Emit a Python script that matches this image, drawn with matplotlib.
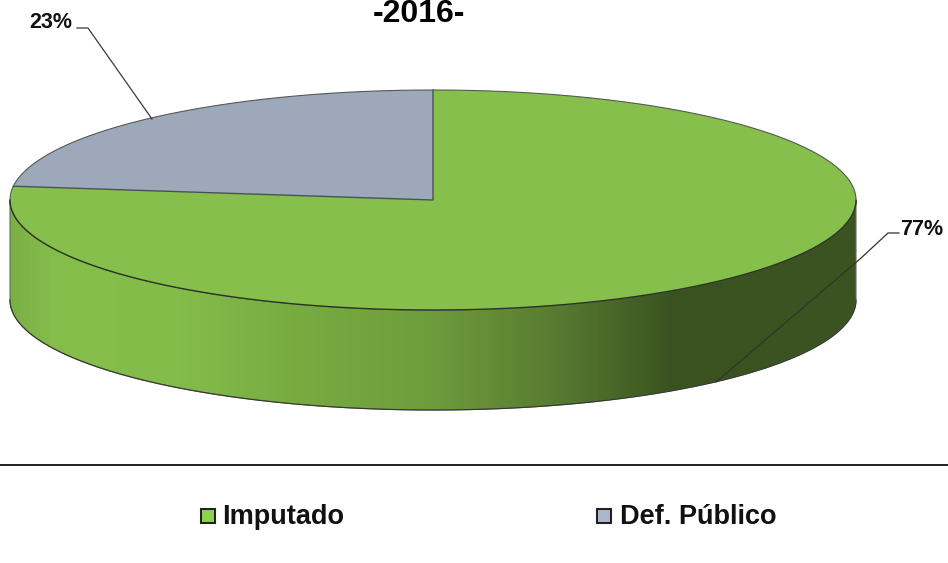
import numpy as np
import matplotlib
matplotlib.use('Agg')
import matplotlib.pyplot as plt
from matplotlib.colors import LinearSegmentedColormap
from matplotlib.patches import Polygon, Rectangle

title = '-2016-'
categories = ['Imputado', 'Def. Público']
shares = [77, 23]
share_labels = ['77%', '23%']

# pie geometry in pixels
cx, cy = 433, 200
rx, ry = 423, 110
depth = 100

green = '#87BF4D'
grey = '#9DA9BA'
edge = '#2a3324'

plt.rcParams['font.family'] = ['Liberation Sans', 'DejaVu Sans']

def arc(a0, a1, dy=0, n=300):
    t = np.radians(np.linspace(a0, a1, n))
    return np.column_stack([cx + rx*np.cos(t), cy + dy - ry*np.sin(t)])

fig = plt.figure(figsize=(9.48, 5.63), dpi=100)
ax = fig.add_axes([0, 0, 1, 1])
ax.axis('off')

# wedge angles, clockwise from 12 o'clock
split = 90 - 360*shares[0]/sum(shares)

# side wall, gradient clipped to the front half of the rim
front = arc(180, 360)
wall = np.vstack([front, arc(360, 180, depth)])
side_cmap = LinearSegmentedColormap.from_list('side', [
    (0.00, '#7BAF45'), (0.05, '#85BE4B'), (0.20, '#84BC4A'), (0.33, '#78AC41'),
    (0.50, '#6E9C3C'), (0.65, '#567A30'), (0.79, '#3A5120'), (1.00, '#3C5322')])
grad = ax.imshow(np.linspace(0, 1, 512).reshape(1, -1), cmap=side_cmap, aspect='auto',
                 extent=[cx-rx, cx+rx, cy+depth+ry, cy], zorder=1)
grad.set_clip_path(Polygon(wall, closed=True, transform=ax.transData))
ax.set_xlim(0, 948)
ax.set_ylim(563, 0)
ax.add_patch(Polygon(wall, closed=True, fill=False, ec='#666b60', lw=0.8, zorder=2))

# top of the pie
top_green = np.vstack([[cx, cy], arc(90, split)])
top_grey = np.vstack([[cx, cy], arc(split + 360, 90)])
ax.add_patch(Polygon(top_green, closed=True, fc=green, ec='none', zorder=3))
ax.add_patch(Polygon(top_grey, closed=True, fc=grey, ec='none', zorder=4))

# rim lines: dark on the front, lighter on the back
ax.plot(*front.T, color=edge, lw=1.0, zorder=5)
ax.plot(*arc(360, 180, depth).T, color='#333a2c', lw=0.8, zorder=2.5)
ax.plot(*arc(0, 180).T, color='#555a55', lw=0.8, zorder=5)
ax.plot(*np.vstack([arc(split + 360, split + 360, n=1), [[cx, cy]], [[cx, 90]]]).T,
        color='#4a5058', lw=1.0, zorder=5)

# leader lines
ax.plot([716, 860, 888, 899], [382, 259, 233, 233], color='#30352c', lw=0.9, zorder=6)
ax.plot([77, 88, 152], [28, 28, 119], color='#3a3a3a', lw=0.9, zorder=6)

ax.text(900, 235, share_labels[0], ha='left', va='baseline', fontsize=15.5, fontweight='bold', color='#111111', zorder=7)
ax.text(29, 28.5, share_labels[1], ha='left', va='baseline', fontsize=15.5, fontweight='bold', color='#111111', zorder=7)
ax.text(419, 22.5, title, ha='center', va='baseline', fontsize=23, fontweight='bold', color='black', zorder=7)

# line above the legend
ax.plot([0, 948], [464.5, 464.5], color='#111111', lw=1.3, zorder=5)

# legend
for name, colour, x_box, x_text in zip(categories, ['#8CD24E', '#ABB8CC'], [201, 597], [222, 620]):
    ax.add_patch(Rectangle((x_box, 509), 14.5, 14, fc=colour, ec='#222222', lw=1.5, zorder=7))
    ax.text(x_text, 524.5, name, ha='left', va='baseline', fontsize=19.5, fontweight='bold', color='#111111', zorder=7)

fig.savefig('out.png', dpi=100)
